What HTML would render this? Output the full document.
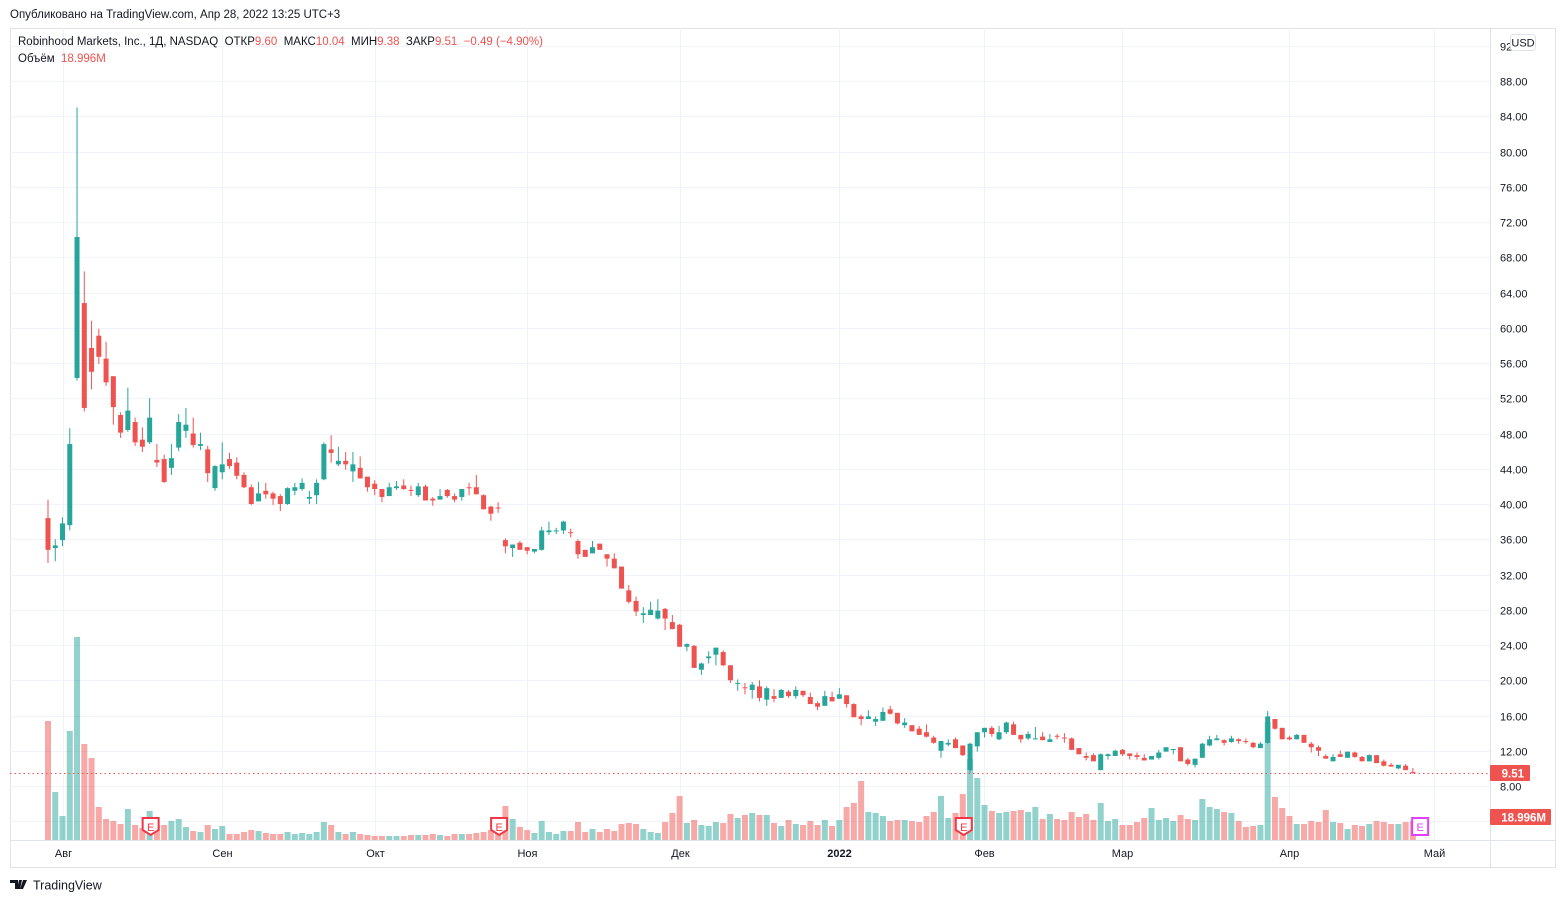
<!DOCTYPE html>
<html><head><meta charset="utf-8">
<style>
body{margin:0;background:#fff;width:1566px;height:903px;overflow:hidden;font-family:"Liberation Sans","DejaVu Sans",sans-serif;color:#131722}
svg{position:absolute;left:0;top:0}
.pre{white-space:pre}
</style></head>
<body>
<svg id="chart" width="1566" height="903" viewBox="0 0 1566 903">
<text x="10" y="18" font-size="11.5" fill="#131722">Опубликовано на TradingView.com, Апр 28, 2022 13:25 UTC+3</text>
<rect x="10.5" y="28.5" width="1545" height="839" fill="none" stroke="#e0e3eb"/>
<g id="grid"></g>
<g id="vol"></g>
<g id="candles"></g>
<line x1="10" y1="773.5" x2="1490" y2="773.5" stroke="#ef5350" stroke-dasharray="1.5,3"/>
<g id="earn"></g>
<line x1="1490.5" y1="28" x2="1490.5" y2="868" stroke="#e0e3eb"/>
<line x1="10" y1="840.5" x2="1556" y2="840.5" stroke="#e0e3eb"/>
<g id="yticks"></g>
<g id="xticks"></g>
<g><rect x="1510.5" y="34.5" width="25" height="16" rx="3" fill="#fff" stroke="#e0e3eb"/><text x="1523" y="46.5" font-size="11" text-anchor="middle" fill="#131722">USD</text></g>
<g><rect x="1490" y="765" width="40" height="16" rx="1" fill="#ef5350"/><text x="1524" y="777.5" font-size="11.5" font-weight="bold" text-anchor="end" fill="#fff">9.51</text></g>
<g><rect x="1490" y="809" width="61" height="16" rx="1" fill="#ef5350"/><text x="1546" y="821.5" font-size="11.5" font-weight="bold" text-anchor="end" fill="#fff">18.996M</text></g>
<g font-size="11.5">
<text class="pre" x="18" y="45"><tspan fill="#131722">Robinhood Markets, Inc., 1Д, NASDAQ  ОТКР</tspan><tspan fill="#ef5350">9.60</tspan><tspan fill="#131722">  МАКС</tspan><tspan fill="#ef5350">10.04</tspan><tspan fill="#131722">  МИН</tspan><tspan fill="#ef5350">9.38</tspan><tspan fill="#131722">  ЗАКР</tspan><tspan fill="#ef5350">9.51  −0.49 (−4.90%)</tspan></text>
<text class="pre" x="18" y="62"><tspan fill="#131722">Объём  </tspan><tspan fill="#ef5350">18.996M</tspan></text>
</g>
<g>
<path d="M10 880h8v9h-3v-6h-5z M19 880h3l-2 9h-3z M23 880h4l-4 9h-3z" fill="#131722"/>
<text x="33" y="889.5" font-size="12.5" fill="#131722">TradingView</text>
</g>
</svg>
<script>
const open_=[38.4,35.0,35.9,37.6,54.3,62.8,57.7,59.1,56.5,54.5,50.1,48.4,49.3,47.3,47.0,45.0,45.1,44.1,46.4,48.3,48.0,46.6,46.2,41.8,43.6,45.1,44.7,43.3,41.9,40.3,41.5,41.2,40.9,40.0,41.5,41.7,40.6,41.0,42.8,46.2,44.5,44.9,43.7,44.1,43.1,42.3,41.7,40.9,41.8,42.1,41.6,41.0,42.0,40.6,40.5,41.6,40.9,40.8,41.9,41.9,41.0,39.7,39.6,35.9,35.0,35.6,35.1,34.6,34.8,36.8,36.9,37.0,36.8,35.8,34.8,34.4,35.5,34.3,33.8,32.9,30.2,29.0,27.4,27.4,27.0,28.1,26.6,26.3,23.8,23.9,21.2,22.5,22.9,23.2,21.7,19.6,19.2,18.9,19.3,17.8,18.2,18.0,18.7,18.2,18.8,18.1,17.4,17.1,18.1,17.9,18.3,17.3,15.9,15.6,15.3,15.4,16.7,16.3,14.9,14.9,14.5,14.1,13.5,12.0,12.7,13.3,12.6,9.8,12.5,14.1,14.6,13.3,14.1,15.0,13.8,13.4,13.3,13.6,13.0,13.7,13.5,13.4,12.3,11.4,11.5,9.8,11.4,11.4,12.1,11.7,11.5,11.2,11.0,11.2,11.9,12.1,12.4,11.0,10.4,11.2,12.6,13.2,13.2,13.0,13.3,13.1,12.9,12.3,12.9,15.6,14.6,13.5,13.3,13.8,12.8,12.4,11.4,10.8,11.6,11.2,11.8,11.3,10.8,11.5,10.8,10.4,10.0,10.3,9.60];
const high=[40.5,36.0,38.5,48.6,85.0,66.4,60.8,59.9,58.4,54.5,50.4,53.2,49.8,48.7,52.0,46.8,45.6,46.8,50.2,50.9,49.8,48.1,46.6,44.4,47.0,45.8,45.3,43.6,42.2,42.5,42.4,41.4,41.1,41.9,42.4,42.9,41.5,42.8,47.0,47.8,46.5,45.9,45.9,45.4,43.1,42.7,41.7,42.4,42.6,42.8,42.1,42.4,42.2,40.8,41.7,41.7,41.2,41.7,42.4,43.3,41.1,39.8,40.2,36.1,35.4,35.8,35.1,34.9,37.4,38.0,37.3,38.1,37.2,36.0,34.8,35.8,35.5,34.3,34.4,32.9,30.8,29.5,28.3,28.9,29.2,28.2,27.4,26.4,24.2,24.0,22.0,23.3,23.7,23.4,21.7,20.1,19.7,19.8,20.0,19.3,19.0,19.0,18.9,19.3,18.8,18.6,17.6,18.8,18.7,19.1,18.3,17.4,16.1,16.6,15.9,16.9,17.1,16.3,15.7,14.9,14.8,15.0,13.7,13.1,13.3,13.5,12.6,12.9,14.1,14.6,14.8,14.8,15.3,15.3,13.8,14.2,14.7,14.1,13.9,13.9,14.0,13.5,12.3,11.8,11.7,11.7,11.7,12.1,12.2,11.7,11.8,11.6,11.4,12.1,12.4,12.2,12.4,11.2,11.1,12.9,13.7,13.8,13.3,13.7,13.4,13.4,13.0,13.0,16.5,15.6,14.6,13.7,13.9,13.8,13.0,12.6,11.6,11.6,12.0,11.9,11.9,11.4,11.6,11.5,11.0,10.6,10.4,10.5,10.04];
const low=[33.3,33.5,35.2,37.0,54.0,50.5,53.0,55.9,53.4,49.0,47.5,48.2,46.6,45.9,46.8,44.2,42.4,43.3,46.0,47.5,46.4,46.1,42.5,41.5,42.8,44.0,42.8,41.8,39.9,40.3,40.6,39.9,39.2,39.9,41.0,41.5,40.0,40.0,42.7,44.7,44.3,43.9,42.5,42.9,41.4,41.0,40.2,40.9,41.6,41.6,40.9,40.8,40.4,39.8,40.5,40.7,40.2,40.4,41.0,41.1,39.4,38.1,39.0,34.4,34.0,34.8,34.3,34.4,34.7,36.5,36.6,36.6,36.2,33.8,34.0,34.4,34.8,32.9,32.7,30.4,28.7,27.3,26.5,27.4,26.9,25.7,25.8,23.8,23.3,21.4,20.6,21.9,21.7,21.6,19.7,18.8,18.4,17.9,17.6,17.1,17.5,18.0,18.0,17.9,18.1,17.3,16.6,17.1,17.6,17.9,16.9,15.8,14.9,15.6,14.8,15.4,16.1,15.0,14.6,14.2,13.8,13.5,12.8,11.2,12.5,12.3,11.4,9.5,11.9,13.5,13.6,13.2,13.9,13.8,12.9,13.2,13.3,13.2,13.0,13.3,12.9,12.1,11.6,10.9,10.8,9.8,11.0,11.4,11.4,11.0,11.0,10.9,11.0,11.0,11.9,11.6,10.8,10.3,10.1,11.2,12.5,13.2,12.6,12.9,12.8,12.8,12.3,12.3,12.8,14.4,13.3,13.2,13.3,12.9,11.8,11.4,11.1,10.8,11.3,11.2,11.2,10.8,10.8,10.6,10.2,10.2,9.9,9.8,9.38];
const close_=[34.8,35.3,37.8,46.8,70.3,50.9,55.0,56.7,53.8,51.0,48.1,50.6,47.0,46.5,49.8,44.7,42.5,45.2,49.3,49.0,46.7,46.8,43.5,44.3,44.5,44.3,43.2,41.9,40.0,41.2,41.1,40.6,40.0,41.8,41.9,42.4,40.8,42.4,46.8,45.8,44.9,44.5,44.5,42.9,41.9,41.7,40.8,41.9,42.0,41.7,41.5,42.0,40.4,40.4,40.9,40.9,40.5,41.7,41.8,41.1,39.4,38.9,39.5,35.2,35.4,34.8,34.7,34.9,37.0,37.0,37.0,38.0,36.7,34.3,34.0,35.1,34.8,33.8,32.7,30.4,28.9,27.8,27.6,28.0,27.9,27.0,25.8,23.8,24.1,21.4,21.9,22.7,23.7,21.7,20.0,19.7,19.1,19.5,18.0,19.1,17.9,18.9,18.2,18.9,18.3,17.3,17.0,18.2,17.6,18.4,17.3,15.8,15.6,15.9,15.6,16.4,16.2,15.1,15.2,14.2,13.8,13.6,12.9,13.1,12.9,12.3,11.5,12.8,14.1,14.6,13.9,14.1,15.2,13.8,13.3,13.9,13.4,13.2,13.3,13.6,13.4,12.1,11.6,11.2,10.8,11.6,11.6,12.0,11.6,11.4,11.3,10.9,11.4,11.8,12.4,12.2,10.8,10.5,11.1,12.8,13.3,13.4,12.9,13.4,13.1,13.0,12.4,12.8,15.9,14.5,13.3,13.3,13.8,12.9,12.4,12.0,11.1,11.3,11.3,11.9,11.3,10.8,11.5,10.6,10.3,10.2,10.4,9.8,9.51];
const volume=[119,48,24,109,203,96,82,33,21,19,16,31,15,12,29,15,15,19,21,13,9,8,15,11,14,6,6,8,10,9,7,6,6,8,6,7,6,8,18,15,8,6,8,6,5,4,4,4,4,4,5,5,5,6,5,4,6,6,6,7,8,10,7,34,21,13,10,7,19,8,6,9,9,18,8,11,8,11,9,16,17,16,11,8,7,18,27,44,17,20,15,14,18,17,26,22,25,27,25,25,17,14,20,16,15,19,15,20,14,20,33,37,59,28,27,24,19,20,20,19,18,24,28,44,22,27,46,81,62,35,29,27,28,29,30,28,33,21,26,21,20,28,23,26,20,37,19,21,15,15,18,22,32,20,22,19,25,21,20,41,33,31,28,27,19,13,14,15,118,43,32,24,16,16,19,18,30,18,17,11,15,14,16,19,18,16,16,18,19];
const priceTicks=[8,12,16,20,24,28,32,36,40,44,48,52,56,60,64,68,72,76,80,84,88,92];
const monthLabels=["Авг","Сен","Окт","Ноя","Дек","2022","Фев","Мар","Апр","Май"];
const monthIndex=[2,24,45,66,87,108.9,128.9,147.9,170.9,190.9];
const earningsIndex=[14,62,126,189];

const NS="http://www.w3.org/2000/svg";
const xOf=i=>48+i*7.26;
const yOf=p=>786-(p-8)*8.8125;
const yVol=v=>840-v*1.0;
function mk(tag,attrs,parent){const e=document.createElementNS(NS,tag);for(const k in attrs)e.setAttribute(k,attrs[k]);parent.appendChild(e);return e;}
const grid=document.getElementById('grid'),vol=document.getElementById('vol'),cg=document.getElementById('candles');
const yt=document.getElementById('yticks'),xt=document.getElementById('xticks'),eg=document.getElementById('earn');
priceTicks.forEach(p=>{
  const y=Math.round(yOf(p))+0.5;
  const l=mk('line',{x1:10,x2:1490,y1:y,y2:y,stroke:'#f0f3fa'},grid);
  
  
  const t=mk('text',{x:1500,y:y+4,'font-size':11,fill:'#131722'},yt);
  t.textContent=p.toFixed(2);
  
  
});
for(let k=1;k<3;k++){const y=Math.round(yOf(8)+35.25*k)+0.5;if(y<840){const l=mk('line',{x1:10,x2:1490,y1:y,y2:y,stroke:'#f0f3fa'},grid);
  
  }}
monthLabels.forEach((m,k)=>{
  const x=Math.round(xOf(monthIndex[k]))+0.5;
  const l=mk('line',{x1:x,x2:x,y1:28,y2:840,stroke:'#f0f3fa'},grid);
  
  
  const t=mk('text',{x:x,y:857,'font-size':11,'text-anchor':'middle',fill:'#131722','font-weight':m==='2022'?'bold':'normal'},xt);
  t.textContent=m;
  
  
});
for(let i=0;i<close_.length;i++){
  const up=close_[i]>=open_[i];
  const col=up?'#26a69a':'#ef5350';
  const x=xOf(i);
  const vb=mk('rect',{x:x-3,y:yVol(volume[i]),width:6,height:840-yVol(volume[i]),fill:up?'rgba(38,166,154,0.5)':'rgba(239,83,80,0.5)'},vol);
  
  
  const g=mk('g',{},cg);
  
  
  mk('line',{x1:x,x2:x,y1:yOf(high[i]),y2:yOf(low[i]),stroke:col,'stroke-width':1},g);
  const t=Math.min(yOf(open_[i]),yOf(close_[i])),b=Math.max(yOf(open_[i]),yOf(close_[i]));
  mk('rect',{x:x-2.5,y:t,width:5,height:Math.max(1,b-t),fill:col},g);
}
earningsIndex.forEach((i,k)=>{
  const x=xOf(i)+(k===3?0:1);
  const g=mk('g',{},eg);
  
  
  const c=k===3?'#e040fb':'#f23645';
  if(k===3){mk('rect',{x:x-8,y:818,width:16,height:17,fill:'#fff',stroke:c,'stroke-width':2},g);}
  else{mk('path',{d:`M${x-8} 818h16v12l-8 5l-8-5z`,fill:'#fff',stroke:c,'stroke-width':2},g);}
  const t=mk('text',{x:x,y:831,'font-size':11,'text-anchor':'middle',fill:c},g);
  t.textContent='E';
});
</script>
</body></html>
